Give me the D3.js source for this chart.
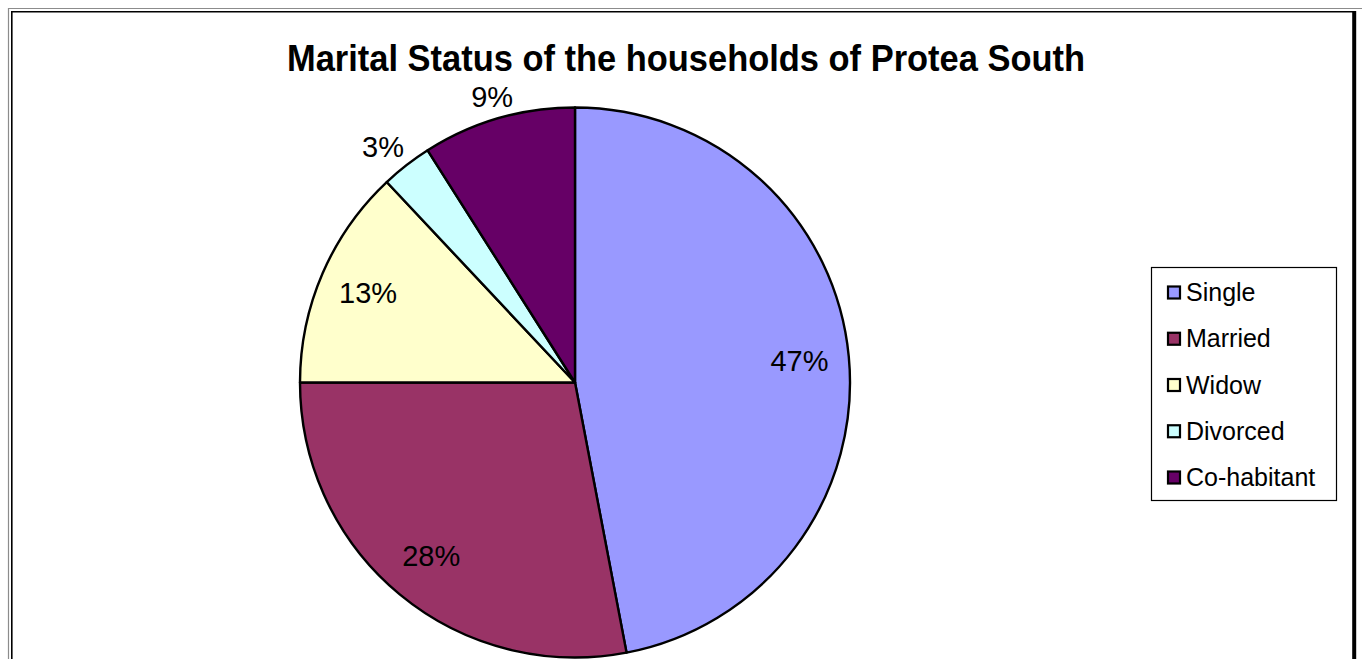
<!DOCTYPE html>
<html>
<head>
<meta charset="utf-8">
<script src="https://cdnjs.cloudflare.com/ajax/libs/d3/7.8.5/d3.min.js"></script>
<style>
  body { margin: 0; background: #fff; }
  svg { display: block; font-family: "Liberation Sans", Arial, sans-serif; }
</style>
</head>
<body>
<div id="chart"></div>
<script>
// data
var categories = ["Single", "Married", "Widow", "Divorced", "Co-habitant"];
var values = [47, 28, 13, 3, 9];
var colors = ["#9999FF", "#993366", "#FFFFCC", "#CCFFFF", "#660066"];
var outsideLabels = ["Divorced", "Co-habitant"];
var title = "Marital Status of the households of Protea South";

var width = 1362, height = 659;

var svg = d3.select("#chart")
  .append("svg")
    .attr("width", width)
    .attr("height", height);

// frame: thin grey outer line, black inner line, heavy right edge
svg.append("path")
  .attr("d", "M8.5," + height + "V8.5H" + width)
  .attr("fill", "none")
  .attr("stroke", "#8c8c8c")
  .attr("stroke-width", 1.2);
svg.append("path")
  .attr("d", "M11.8," + height + "V11.8H1354")
  .attr("fill", "none")
  .attr("stroke", "#000")
  .attr("stroke-width", 1.6);
svg.append("line")
  .attr("x1", 1354.2).attr("x2", 1354.2)
  .attr("y1", 11).attr("y2", height)
  .attr("stroke", "#000")
  .attr("stroke-width", 4);

// title
svg.append("text")
  .attr("x", 686)
  .attr("y", 71)
  .attr("text-anchor", "middle")
  .attr("font-weight", "bold")
  .attr("font-size", "37px")
  .attr("textLength", 798)
  .attr("lengthAdjust", "spacingAndGlyphs")
  .text(title);

// pie
var cx = 575, cy = 382.5, radius = 275;
var color = d3.scaleOrdinal().domain(categories).range(colors);

var slices = categories.map(function(c, i) { return { category: c, value: values[i] }; });
var total = d3.sum(values);

var pie = d3.pie()
  .sort(null)
  .value(function(d) { return d.value; });

var arc = d3.arc().innerRadius(0).outerRadius(radius);
var labelArcIn = d3.arc().innerRadius(radius * 0.82).outerRadius(radius * 0.82);
var labelArcOut = d3.arc().innerRadius(radius * 1.08).outerRadius(radius * 1.08);

var g = svg.append("g")
  .attr("transform", "translate(" + cx + "," + cy + ")");

g.selectAll("path.slice")
  .data(pie(slices))
  .enter()
  .append("path")
    .attr("class", "slice")
    .attr("d", arc)
    .attr("fill", function(d) { return color(d.data.category); })
    .attr("stroke", "#000")
    .attr("stroke-width", 2.4)
    .attr("stroke-linejoin", "round");

g.selectAll("text.pct")
  .data(pie(slices))
  .enter()
  .append("text")
    .attr("class", "pct")
    .attr("transform", function(d) {
      var outside = outsideLabels.indexOf(d.data.category) >= 0;
      var p = (outside ? labelArcOut : labelArcIn).centroid(d);
      // outside labels on the left half sit a little further out horizontally
      if (outside && p[0] < 0 && p[1] > -radius * 0.9) p[0] -= 10;
      return "translate(" + p + ")";
    })
    .attr("text-anchor", "middle")
    .attr("dy", "0.33em")
    .attr("font-size", "29px")
    .attr("fill", "#000")
    .text(function(d) { return Math.round(d.data.value / total * 100) + "%"; });

// legend
var legend = svg.append("g").attr("class", "legend");
legend.append("rect")
  .attr("x", 1151.5)
  .attr("y", 267.5)
  .attr("width", 185)
  .attr("height", 233)
  .attr("fill", "#fff")
  .attr("stroke", "#000")
  .attr("stroke-width", 1.2);

var ly = d3.scalePoint().domain(categories).range([292, 477]);

var items = legend.selectAll("g.item")
  .data(categories)
  .enter()
  .append("g")
    .attr("class", "item")
    .attr("transform", function(d) { return "translate(1167," + ly(d) + ")"; });

items.append("rect")
  .attr("x", 1)
  .attr("y", -5.5)
  .attr("width", 12)
  .attr("height", 12)
  .attr("fill", function(d) { return color(d); })
  .attr("stroke", "#000")
  .attr("stroke-width", 2.2);

items.append("text")
  .attr("x", 19)
  .attr("dy", "0.36em")
  .attr("font-size", "25px")
  .attr("fill", "#000")
  .text(function(d) { return d; });
</script>
</body>
</html>
